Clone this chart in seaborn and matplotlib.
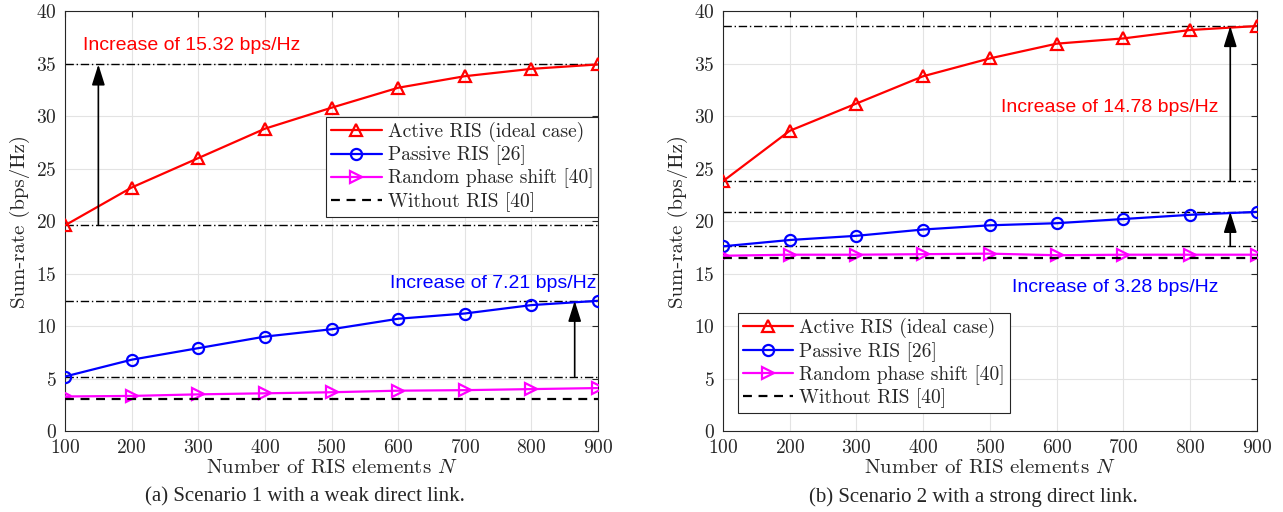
import numpy as np
import pandas as pd
import matplotlib
matplotlib.use("Agg")
import matplotlib.pyplot as plt
import seaborn as sns

N = [100, 200, 300, 400, 500, 600, 700, 800, 900]

# Scenario 1 (weak direct link)
active_1 = [19.6, 23.2, 26.0, 28.8, 30.8, 32.7, 33.8, 34.5, 34.92]
passive_1 = [5.2, 6.8, 7.9, 9.0, 9.7, 10.7, 11.2, 12.0, 12.41]
random_1 = [3.3, 3.35, 3.5, 3.6, 3.7, 3.85, 3.9, 4.0, 4.1]
without_1 = [3.1, 3.1, 3.1, 3.1, 3.1, 3.1, 3.1, 3.1, 3.1]

# Scenario 2 (strong direct link)
active_2 = [23.8, 28.6, 31.2, 33.8, 35.5, 36.9, 37.4, 38.2, 38.58]
passive_2 = [17.6, 18.2, 18.6, 19.2, 19.6, 19.8, 20.2, 20.6, 20.88]
random_2 = [16.7, 16.8, 16.8, 16.85, 16.9, 16.75, 16.8, 16.8, 16.8]
without_2 = [16.5, 16.5, 16.5, 16.5, 16.5, 16.5, 16.5, 16.5, 16.5]

labels = ["Active RIS (ideal case)", "Passive RIS [26]",
          "Random phase shift [40]", "Without RIS [40]"]
captions = ["(a) Scenario 1 with a weak direct link.",
            "(b) Scenario 2 with a strong direct link."]

sns.set_style("whitegrid")
plt.rcParams["font.family"] = ["cmr10", "Liberation Serif", "DejaVu Serif"]
plt.rcParams["mathtext.fontset"] = "cm"
plt.rcParams["axes.formatter.use_mathtext"] = True

fig = plt.figure(figsize=(12.83, 5.12), dpi=100)
ax1 = fig.add_axes([0.0507, 0.158, 0.4154, 0.8203])
ax2 = fig.add_axes([0.5635, 0.158, 0.4162, 0.8203])

styles = [
    dict(color="red", marker="^", ms=9),
    dict(color="blue", marker="o", ms=8),
    dict(color="magenta", marker=">", ms=9),
]

SANS = ["Liberation Sans", "DejaVu Sans"]
SERIF = ["Liberation Serif", "DejaVu Serif"]


def draw(ax, series, legend_loc, legend_anchor):
    for s, lab, st in zip(series[:3], labels[:3], styles):
        df = pd.DataFrame({"N": N, "R": s})
        sns.lineplot(data=df, x="N", y="R", ax=ax, color=st["color"], lw=1.6,
                     marker=st["marker"], markersize=st["ms"],
                     markerfacecolor="none", markeredgecolor=st["color"],
                     markeredgewidth=1.6, label=lab, zorder=3)
    df = pd.DataFrame({"N": N, "R": series[3]})
    sns.lineplot(data=df, x="N", y="R", ax=ax, color="black", lw=1.6,
                 linestyle=(0, (4, 3)), label=labels[3], zorder=3)
    ax.set_xlim(100, 900)
    ax.set_ylim(0, 40)
    ax.set_xticks(N)
    ax.set_yticks(range(0, 41, 5))
    ax.tick_params(direction="in", length=4, top=True, right=True,
                   labelsize=14, colors="#262626", pad=6)
    for sp in ax.spines.values():
        sp.set_color("#262626")
        sp.set_linewidth(0.8)
    ax.grid(True, color="#e3e3e3", lw=0.8)
    ax.set_xlabel(r"Number of RIS elements $N$", fontsize=15, color="#262626", labelpad=1)
    ax.set_ylabel("Sum-rate (bps/Hz)", fontsize=15, color="#262626", labelpad=4)
    leg = ax.legend(loc=legend_loc, bbox_to_anchor=legend_anchor, fontsize=14,
                    frameon=True, fancybox=False, edgecolor="#262626",
                    framealpha=1, borderpad=0.25, labelspacing=0.18,
                    handlelength=2.6, handletextpad=0.3, borderaxespad=0)
    leg.get_frame().set_linewidth(0.8)


def hline(ax, y):
    ax.axhline(y, color="black", lw=1.0, linestyle=(0, (6, 2, 1, 2)), zorder=2)


def arrow(ax, x, y0, y1):
    ax.annotate("", xy=(x, y1), xytext=(x, y0),
                arrowprops=dict(arrowstyle="-|>,head_length=0.7,head_width=0.22",
                                color="black", lw=1.2,
                                mutation_scale=18, shrinkA=0, shrinkB=0),
                zorder=4)


draw(ax1, [active_1, passive_1, random_1, without_1], "upper right", (1.0, 0.748))
draw(ax2, [active_2, passive_2, random_2, without_2], "lower left", (0.028, 0.043))

# annotations scenario 1
for y in [active_1[0], active_1[-1], passive_1[0], passive_1[-1]]:
    hline(ax1, y)
arrow(ax1, 150, active_1[0], active_1[-1])
arrow(ax1, 865, passive_1[0], passive_1[-1])
ax1.text(127, 36.7, "Increase of %.2f bps/Hz" % 15.32, color="red",
         fontsize=14, family=SANS, va="center", ha="left")
ax1.text(898, 14.1, "Increase of %.2f bps/Hz" % 7.21, color="blue",
         fontsize=14, family=SANS, va="center", ha="right")

# annotations scenario 2
for y in [active_2[0], active_2[-1], passive_2[0], passive_2[-1]]:
    hline(ax2, y)
arrow(ax2, 860, active_2[0], active_2[-1])
arrow(ax2, 860, passive_2[0], passive_2[-1])
ax2.text(842, 30.8, "Increase of %.2f bps/Hz" % 14.78, color="red",
         fontsize=14, family=SANS, va="center", ha="right")
ax2.text(842, 13.7, "Increase of %.2f bps/Hz" % 3.28, color="blue",
         fontsize=14, family=SANS, va="center", ha="right")

fig.text(0.2377, 0.010, captions[0], ha="center", va="bottom",
         fontsize=15, family=SERIF)
fig.text(0.759, 0.010, captions[1], ha="center", va="bottom",
         fontsize=15, family=SERIF)

fig.savefig("out.png", dpi=100)
